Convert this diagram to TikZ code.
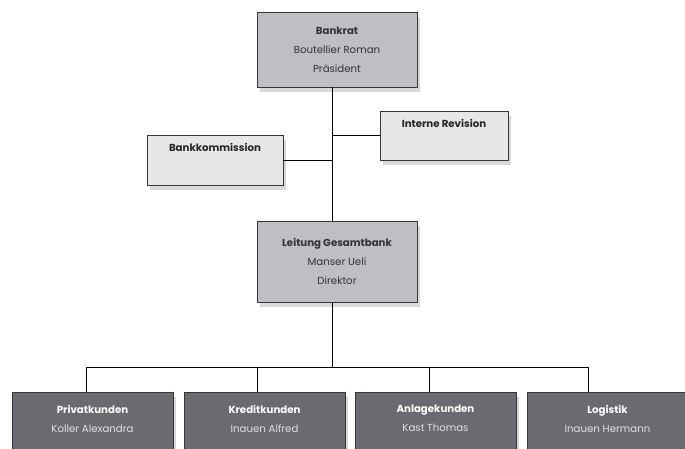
\documentclass[tikz,border=0pt]{standalone}
\usepackage{fontspec}
\setmainfont{Poppins}
\usetikzlibrary{shadows}

\definecolor{topgray}{RGB}{190,191,195}
\definecolor{stabgray}{RGB}{230,231,233}
\definecolor{abtgray}{RGB}{106,107,112}
\definecolor{framegray}{RGB}{55,55,58}

\tikzset{
	orgbox/.style={draw=framegray, line width=0.8pt, align=center, inner sep=0pt,
		font=\fontsize{10.2}{19}\selectfont,
		drop shadow={shadow xshift=3pt, shadow yshift=-5pt, opacity=0.3}},
	chefbox/.style={orgbox, fill=topgray, text=black!80},
	stabbox/.style={orgbox, fill=stabgray, text=black!85},
	abtbox/.style={orgbox, fill=abtgray, text=white, minimum width=161pt, minimum height=78pt},
	link/.style={draw=black, line width=0.7pt}
}

\begin{document}
\begin{tikzpicture}[x=1pt, y=-1pt]
		\useasboundingbox (0,0) rectangle (685,448);
		\clip (0,0) rectangle (685,448);
		
		\coordinate (spine) at (332,0);
		\coordinate (bus) at (332,367);
		
		\node[chefbox, minimum width=160pt, minimum height=75pt] (bankrat) at (337,49.5)
			{\textbf{Bankrat}\\Boutellier Roman\\Präsident};
		\node[stabbox, minimum width=136pt, minimum height=50pt] (kommission) at (215,160)
			{\textbf{Bankkommission}\\\strut};
		\node[stabbox, minimum width=128pt, minimum height=49pt] (revision) at (444,135.5)
			{\textbf{Interne Revision}\\\strut};
		\node[chefbox, minimum width=160pt, minimum height=81pt] (leitung) at (337,261.5)
			{\textbf{Leitung Gesamtbank}\\Manser Ueli\\Direktor};
		
		\node[abtbox] (privat) at (92.5,431) {\textbf{Privatkunden}\\\color{white!88!black}Koller Alexandra\\\strut};
		\node[abtbox] (kredit) at (264.5,431) {\textbf{Kreditkunden}\\\color{white!88!black}Inauen Alfred\\\strut};
		\node[abtbox] (anlage) at (435.5,431) {\textbf{Anlagekunden}\\\color{white!88!black}Kast Thomas\\\strut};
		\node[abtbox] (logistik) at (607.5,431) {\textbf{Logistik}\\\color{white!88!black}Inauen Hermann\\\strut};
		
		% Linien
		\draw[link] (bankrat.south -| spine) -- (leitung.north -| spine);
		\draw[link] (kommission.east) -- (kommission.east -| spine);
		\draw[link] (revision.west) -- (revision.west -| spine);
		\draw[link] (leitung.south -| spine) -- (bus);
		\draw[link] ([xshift=-6.5pt]privat.north) |- (bus);
		\draw[link] ([xshift=-7.5pt]kredit.north) |- (bus);
		\draw[link] ([xshift=-6.5pt]anlage.north) |- (bus);
		\draw[link] ([xshift=-19.5pt]logistik.north) |- (bus);
	\end{tikzpicture}
\end{document}
